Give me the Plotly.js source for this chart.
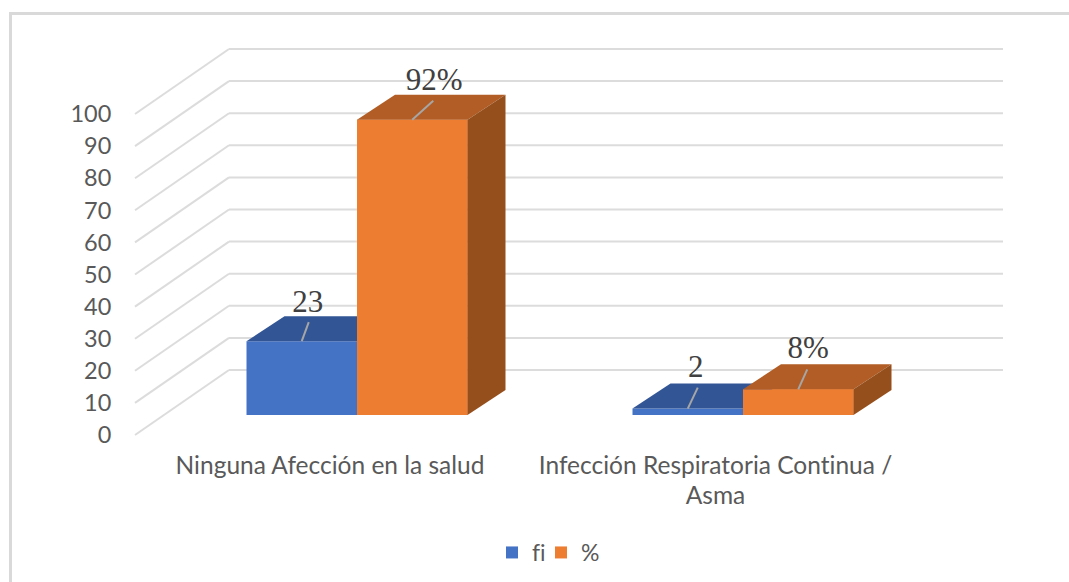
<!DOCTYPE html>
<html>
<head>
<meta charset="utf-8">
<script src="https://cdn.plot.ly/plotly-3.0.1.min.js"></script>
<style>html,body{margin:0;padding:0;background:#fff}#c{width:1069px;height:582px}
text,tspan{font-variant-ligatures:none !important;font-feature-settings:"liga" 0,"clig" 0 !important}</style>
</head>
<body>
<div id="c"></div>
<script>
// ---- data ----
const categories = ["Ninguna Afección en la salud", "Infección Respiratoria Continua /<br>Asma"];
const fiValues = [23, 2];
const pctValues = [92, 8];
const fiLabels = ["23", "2"];
const pctLabels = ["92%", "8%"];
const gridValues = [0,10,20,30,40,50,60,70,80,90,100];

// ---- 3D projection constants, in axis units ----
const PXX = 386, PXY = 3.21;              // pixels per axis unit
const barW = 110.5 / PXX;
const floorLift = 20 / PXY;               // bars stand this far above the front edge
const depthX = 38 / PXX, depthY = 25 / PXY;
const wallX = 94 / PXX, wallY = 65 / PXY;
const xMin = (135 - 357) / PXX, xMax = (1003 - 357) / PXX;
const catIdx = [0, 1];
const tickX = [(330 - 357) / PXX, (715.5 - 357) / PXX];
const fiLabelOff = [[6,-37],[8,-39]], pctLabelOff = [[22,-37],[10,-39]];
const fiLeadOff = [[7,-19],[10,-21]], pctLeadOff = [[21,-19],[9,-20]];

const BLUE='#4472c4', BLUE_TOP='#325595', ORANGE='#ed7d31', ORANGE_TOP='#b25d25', ORANGE_SIDE='#954f1d';

function poly(xs, ys, color){
  return {type:'scatter', mode:'lines', x:xs, y:ys, fill:'toself', fillcolor:color,
          line:{width:0,color:color}, showlegend:false, hoverinfo:'skip'};
}
const traces = [];
traces.push({type:'bar', name:'fi', x:catIdx, y:fiValues, base:floorLift, width:barW, offset:-barW,
             marker:{color:BLUE}, hoverinfo:'skip', legend:'legend'});
traces.push({type:'bar', name:'%', x:catIdx, y:pctValues, base:floorLift, width:barW, offset:0,
             marker:{color:ORANGE}, hoverinfo:'skip', legend:'legend2'});
catIdx.forEach(i=>{
  const l=i-barW, m=i, r=i+barW;
  const fTop=fiValues[i]+floorLift, pTop=pctValues[i]+floorLift;
  // blue top
  traces.push(poly([l,l+depthX,m+depthX,m,l],[fTop,fTop+depthY,fTop+depthY,fTop,fTop],BLUE_TOP));
  // orange front over the blue top
  traces.push(poly([m,r,r,m,m],[floorLift,floorLift,pTop,pTop,floorLift],ORANGE));
  // orange top and side
  traces.push(poly([m,m+depthX,r+depthX,r,m],[pTop,pTop+depthY,pTop+depthY,pTop,pTop],ORANGE_TOP));
  traces.push(poly([r,r+depthX,r+depthX,r,r],[floorLift,floorLift+depthY,pTop+depthY,pTop,floorLift],ORANGE_SIDE));
});
// leader lines and data labels
function leaders(cx, tops, offs){
  cx.forEach((x,i)=>{
    traces.push({type:'scatter',mode:'lines',x:[x,x+offs[i][0]/PXX],y:[tops[i],tops[i]-offs[i][1]/PXY],
      line:{color:'#a6a6a6',width:2},showlegend:false,hoverinfo:'skip'});
  });
}
const fiC=catIdx.map(i=>i-barW/2), pC=catIdx.map(i=>i+barW/2);
const fiT=fiValues.map(v=>v+floorLift), pT=pctValues.map(v=>v+floorLift);
leaders(fiC,fiT,fiLeadOff); leaders(pC,pT,pctLeadOff);
function labels(cx,tops,offs,txt){
  traces.push({type:'scatter',mode:'text',x:cx.map((x,i)=>x+offs[i][0]/PXX),y:tops.map((t,i)=>t-offs[i][1]/PXY),
    text:txt,textposition:'middle center',cliponaxis:false,
    textfont:{family:'Liberation Serif, serif',size:31,color:'#404040'},showlegend:false,hoverinfo:'skip'});
}
labels(fiC,fiT,fiLabelOff,fiLabels); labels(pC,pT,pctLabelOff,pctLabels);

// gridlines on side wall and back wall
const GRID={color:'#dcdcdc',width:2};
const shapes=[];
gridValues.forEach(v=>{
  shapes.push({type:'line',layer:'below',xref:'x',yref:'y',x0:xMin,y0:v,x1:xMin+wallX,y1:v+wallY,line:GRID});
  shapes.push({type:'line',layer:'below',xref:'x',yref:'y',x0:xMin+wallX,y0:v+wallY,x1:xMax,y1:v+wallY,line:GRID});
});
// outer frame
const mL=130,mR=61,mT=40,mB=144,W=1069,H=582,pw=W-mL-mR,ph=H-mT-mB;
const fx=p=>(p-mL)/pw, fy=p=>1-(p-mT)/ph;
shapes.push({type:'line',xref:'paper',yref:'paper',x0:fx(10.5),x1:fx(10.5),y0:fy(582),y1:fy(13.5),line:{color:'#d9d9d9',width:3}});
shapes.push({type:'line',xref:'paper',yref:'paper',x0:fx(9),x1:fx(1069),y0:fy(13.5),y1:fy(13.5),line:{color:'#d9d9d9',width:3}});

const TXT='#595959', FF='Lato, sans-serif';
const legendBase={orientation:'h',xref:'container',yref:'container',xanchor:'left',yanchor:'top',
    y:1-531/H,font:{family:FF,size:23,color:TXT},bgcolor:'rgba(0,0,0,0)'};
const layout={
  width:W,height:H,autosize:false,
  margin:{l:mL,r:mR,t:mT,b:mB,pad:0},
  paper_bgcolor:'#fff',plot_bgcolor:'rgba(0,0,0,0)',
  barmode:'overlay',
  xaxis:{range:[(mL-357)/PXX,(W-mR-357)/PXX],tickmode:'array',tickvals:tickX,
    ticktext:categories.map(c=>'<span style="font-size:24.5px">'+c+'</span>'),
    showgrid:false,zeroline:false,showline:false,ticks:'outside',ticklen:7,tickcolor:'rgba(0,0,0,0)',
    tickangle:0,tickfont:{family:FF,size:23,color:TXT}},
  yaxis:{range:[(435-(H-mB))/PXY,(435-mT)/PXY],tickmode:'array',tickvals:gridValues,
    ticktext:gridValues.map(String),showgrid:false,zeroline:false,showline:false,
    ticks:'outside',ticklen:13,tickcolor:'rgba(0,0,0,0)',tickfont:{family:FF,size:23.5,color:TXT}},
  legend:Object.assign({},legendBase,{x:492/W}),
  legend2:Object.assign({},legendBase,{x:541/W}),
  shapes:shapes,
  showlegend:true
};
Plotly.newPlot('c',traces,layout,{displayModeBar:false,staticPlot:true});
</script>
</body>
</html>
